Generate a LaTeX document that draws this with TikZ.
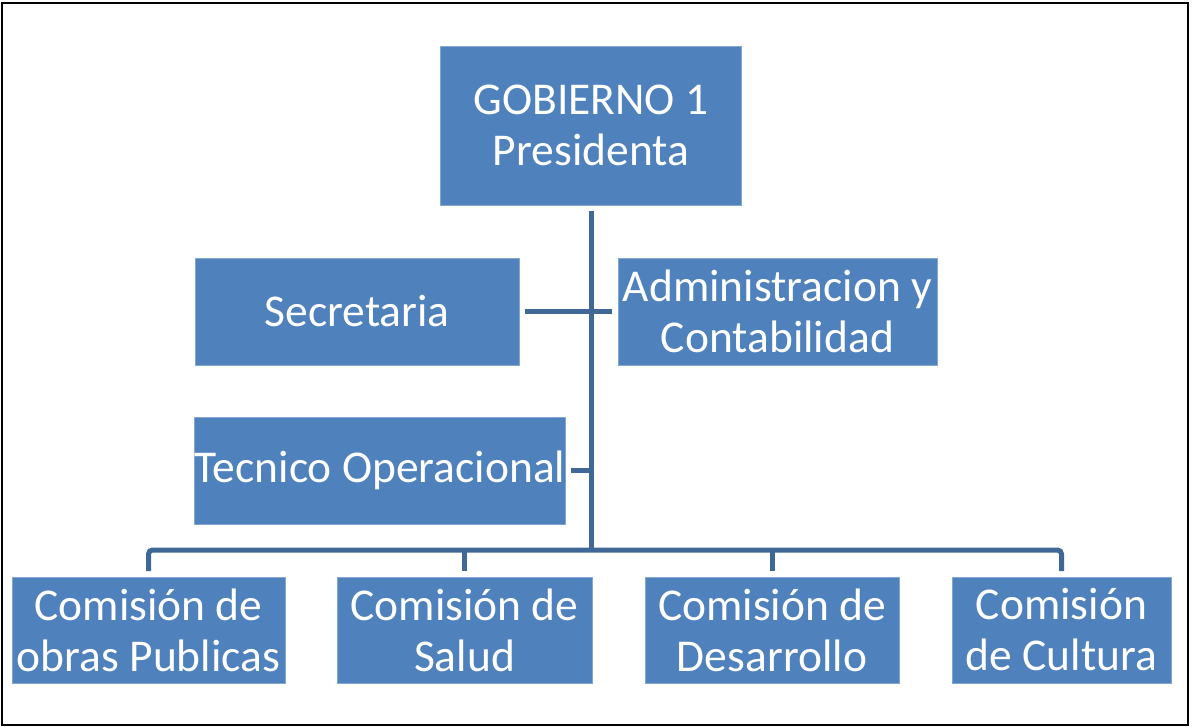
\documentclass[tikz,border=0pt]{standalone}
\usepackage{fontspec}
\setmainfont{Carlito}
\usetikzlibrary{positioning}
\definecolor{boxblue}{HTML}{4F81BD}
\definecolor{lineblue}{HTML}{3F6896}
\begin{document}
\begin{tikzpicture}
[x=1pt,y=-1pt,
box/.style={fill=boxblue,draw=boxblue!70!white,line width=0.6pt,text=white,inner sep=0pt,outer sep=6pt,align=center,font=\fontsize{45.5}{51}\selectfont},
link/.style={draw=lineblue,line width=5pt}]
\useasboundingbox (0,0) rectangle (1192,727);
\draw[line width=2.5pt] (2,3) rectangle (1188,725);
\node[box,minimum width=301pt,minimum height=159pt](gob) at (591,125.5){GOBIERNO 1\\Presidenta};
\node[box,minimum width=324pt,minimum height=107pt](sec) at (357,311.5){Secretaria};
\node[box,minimum width=319pt,minimum height=107pt](adm) at (777.5,311.5){Administracion y\\Contabilidad};
\node[box,minimum width=370pt,minimum height=107pt](tec) at (380,470.5){Tecnico Operacional};
\node[box,minimum width=273pt,minimum height=106pt](obras) at (148.5,630){Comisión de\\obras Publicas};
\node[box,minimum width=255pt,minimum height=106pt](salud) at (464.5,630){Comisión de\\Salud};
\node[box,minimum width=254pt,minimum height=106pt](desa) at (772,630){Comisión de\\Desarrollo};
\node[box,minimum width=219pt,minimum height=106pt](cult) at (1061.5,630){Comisión\\de Cultura};
\coordinate (hub) at (591,550);
\path[link] (gob.south) -- (hub);
\path[link] (sec.east) -- (adm.west);
\path[link] (tec.east) -- (tec.east -| hub);
\path[link,rounded corners=4pt] (obras.north) -- (obras.north |- hub) -| (cult.north);
\path[link] (salud.north) -- (salud.north |- hub);
\path[link] (desa.north) -- (desa.north |- hub);
\end{tikzpicture}
\end{document}
